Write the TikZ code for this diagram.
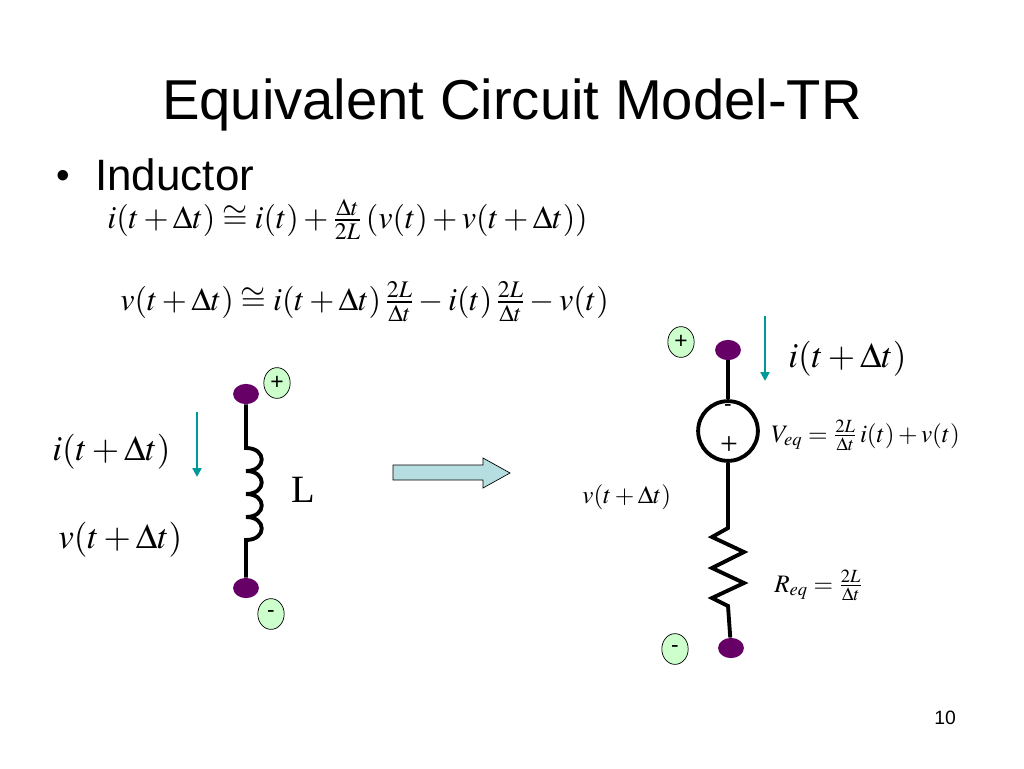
\documentclass[tikz,border=0pt]{standalone}
\usepackage{amsmath}
\usepackage{mathptmx}
\usepackage[no-math]{fontspec}
\setmainfont{Liberation Sans}
\newfontfamily\serif{Liberation Serif}
\usetikzlibrary{shapes.geometric,arrows.meta}
\definecolor{dotpurple}{RGB}{102,0,102}
\definecolor{signgreen}{RGB}{204,255,204}
\definecolor{arrowteal}{RGB}{0,153,153}
\definecolor{blockblue}{RGB}{182,222,224}
\tikzset{
  terminal/.style={ellipse, fill=dotpurple, minimum width=14.7pt, minimum height=11.5pt, inner sep=0pt},
  sign/.style={ellipse, draw, thin, fill=signgreen, minimum width=15pt, minimum height=17.5pt, inner sep=0pt, font=\fontsize{13}{15}\selectfont},
  wire/.style={line width=2.2pt},
  current/.style={arrowteal, line width=1.2pt, -{Triangle[length=5pt,width=5pt]}},
  eqline/.style={anchor=base west, inner sep=0pt, font=\fontsize{18.3}{22}\selectfont},
  eqbig/.style={anchor=base west, inner sep=0pt, font=\fontsize{20}{24}\selectfont},
  eqsmall/.style={anchor=base west, inner sep=0pt, font=\fontsize{14.3}{17}\selectfont}
}
\begin{document}
\begin{tikzpicture}[x=0.02cm, y=-0.02cm]
\useasboundingbox (0,0) rectangle (1024,768);
% title and bullet
\node[anchor=base, inner sep=0pt, font=\fontsize{32}{38}\selectfont] (title) at (512,119) {Equivalent Circuit Model-TR};
\node[anchor=base, inner sep=0pt, font=\fontsize{22}{26}\selectfont] (bullet) at (63,188) {•};
\node[anchor=base west, inner sep=0pt, font=\fontsize{25}{30}\selectfont] (inductor) at (95,190) {Inductor};
\node[eqline] (eqi) at (107,228) {$i(t+\Delta t)\cong i(t)+\tfrac{\Delta t}{2L}\,(v(t)+v(t+\Delta t))$};
\node[eqline] (eqv) at (120,310) {$v(t+\Delta t)\cong i(t+\Delta t)\,\tfrac{2L}{\Delta t}-i(t)\,\tfrac{2L}{\Delta t}-v(t)$};

% inductor
\node[terminal] (ltop) at (246,394) {};
\node[terminal] (lbot) at (246,588) {};
\coordinate (lcoil) at (246,448);
\draw[wire] (ltop) -- (lcoil)
  .. controls +(21,0) and +(21,0) .. ++(0,23)
  .. controls +(21,0) and +(21,0) .. ++(0,23)
  .. controls +(21,0) and +(21,0) .. ++(0,23)
  .. controls +(21,0) and +(21,0) .. ++(0,23) -- (lbot);
\node[sign] (lplus) at (277,383) {+};
\node[sign] (lminus) at (271,614) {-};
\node[inner sep=0pt, font=\serif\fontsize{22}{26}\selectfont] (lname) at (303,490) {L};
\coordinate (ia1) at (197,412);
\coordinate (ia2) at (197,477);
\draw[current] (ia1) -- (ia2);
\node[eqbig] (li) at (52,460) {$i(t+\Delta t)$};
\node[eqbig] (lv) at (58,548) {$v(t+\Delta t)$};

% block arrow
\draw[thin, fill=blockblue] (393,465) -- (483,465) -- (483,458) -- (510,473) -- (483,488) -- (483,480) -- (393,480) -- cycle;

% companion model
\node[terminal] (rtop) at (728,350) {};
\node[terminal] (rbot) at (731,648) {};
\node[circle, draw, line width=2.2pt, minimum size=34pt, inner sep=0pt] (src) at (728,431) {};
\node[inner sep=0pt, font=\fontsize{13}{15}\selectfont] (srcminus) at (728,408) {-};
\node[inner sep=0pt, font=\serif\fontsize{18}{20}\selectfont] (srcplus) at (729,446) {+};
\coordinate (res1) at (728,528);
\coordinate (res2) at (728,606);
\draw[wire] (rtop) -- (src.north);
\draw[wire, line join=miter] (src.south) -- (res1) -- (712,537) -- (744,552) -- (712,568) -- (744,583) -- (712,598) -- (res2) -- (rbot);
\node[sign] (rplus) at (681,342) {+};
\node[sign] (rminus) at (675,649) {-};
\coordinate (ib1) at (765,316);
\coordinate (ib2) at (765,381);
\draw[current] (ib1) -- (ib2);
\node[eqbig] (ri) at (788,367) {$i(t+\Delta t)$};
\node[eqsmall] (veq) at (771,442) {$V_{eq}=\tfrac{2L}{\Delta t}\,i(t)+v(t)$};
\node[eqsmall] (rv) at (582,503) {$v(t+\Delta t)$};
\node[eqsmall] (req) at (774,592) {$R_{eq}=\tfrac{2L}{\Delta t}$};

\node[inner sep=0pt, font=\fontsize{11}{13}\selectfont] (page) at (945,718) {10};
\end{tikzpicture}
\end{document}
